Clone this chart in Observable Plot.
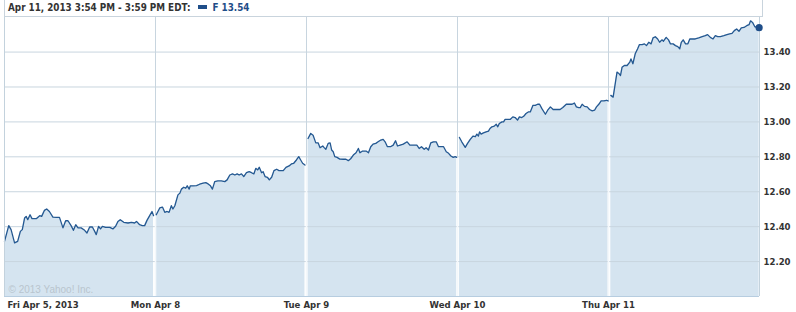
<!DOCTYPE html>
<html>
<head>
<meta charset="utf-8">
<script src="https://cdn.jsdelivr.net/npm/d3@7"></script>
<script src="https://cdn.jsdelivr.net/npm/@observablehq/plot@0.6"></script>
<style>
  html, body { margin: 0; padding: 0; background: #fff; }
  #wrap { width: 796px; }
  #hdr {
    margin-left: 4px; width: 754px; height: 16px;
    border-left: 1px solid #c9d4dd; border-right: 1px solid #c9d4dd; border-bottom: 1px solid #c9d4dd;
    font-family: "DejaVu Sans Condensed", "DejaVu Sans", sans-serif; font-weight: bold; font-size: 9.8px;
    color: #333; line-height: 16px; padding-left: 3px; box-sizing: content-box; white-space: nowrap;
  }
  #hdr .sw { display: inline-block; width: 9px; height: 4px; background: #1f4e89; margin: 0 5px 0 8px; vertical-align: 2px; }
  #hdr .tk { color: #1f4e89; }
</style>
</head>
<body>
<div id="wrap">
  <div id="hdr"><span id="range"></span><span class="sw"></span><span class="tk" id="tick"></span></div>
  <div id="chart"></div>
</div>
<script>
// Header texts
const rangeText = "Apr 11, 2013 3:54 PM - 3:59 PM EDT:";
const symbol = "F";
const lastPrice = 13.54;

// Session labels (one per trading day) and y ticks
const days = ["Fri Apr 5, 2013", "Mon Apr 8", "Tue Apr 9", "Wed Apr 10", "Thu Apr 11"];
const yTicks = [12.2, 12.4, 12.6, 12.8, 13.0, 13.2, 13.4];
const copyright = "\u00A9 2013 Yahoo! Inc.";

// [minutes after 9:30 open, price]
const fri = [[0,12.316],[11,12.406],[17,12.383],[26,12.307],[34,12.316],[41,12.373],[46,12.383],[52,12.450],[56,12.459],[60,12.440],
  [66,12.468],[71,12.446],[82,12.446],[91,12.463],[96,12.459],[103,12.493],[109,12.501],[116,12.487],[125,12.455],[134,12.453],
  [142,12.453],[151,12.393],[158,12.434],[164,12.434],[172,12.406],[178,12.379],[184,12.411],[190,12.393],[198,12.393],[207,12.379],
  [213,12.364],[220,12.398],[227,12.398],[233,12.373],[237,12.354],[243,12.402],[248,12.387],[253,12.402],[261,12.396],[272,12.396],
  [280,12.387],[287,12.402],[293,12.430],[299,12.440],[308,12.425],[319,12.421],[328,12.425],[336,12.421],[341,12.430],[349,12.411],
  [356,12.406],[362,12.406],[368,12.436],[375,12.463],[381,12.487],[385,12.463]];
const mon = [[2,12.468],[11,12.507],[18,12.512],[24,12.482],[30,12.487],[35,12.482],[41,12.520],[45,12.501],[50,12.520],[58,12.582],
  [63,12.592],[67,12.615],[73,12.626],[78,12.620],[82,12.634],[87,12.615],[90,12.634],[97,12.634],[106,12.635],[114,12.643],
  [123,12.649],[130,12.652],[136,12.645],[142,12.634],[147,12.615],[153,12.658],[161,12.662],[170,12.662],[179,12.658],[185,12.668],
  [192,12.696],[199,12.702],[205,12.696],[211,12.702],[216,12.696],[222,12.702],[228,12.687],[235,12.709],[242,12.715],[248,12.709],
  [254,12.702],[259,12.734],[264,12.725],[268,12.740],[274,12.709],[278,12.715],[283,12.687],[289,12.683],[294,12.668],[300,12.683],
  [306,12.721],[313,12.729],[319,12.721],[330,12.721],[337,12.740],[345,12.748],[351,12.759],[357,12.763],[364,12.782],[370,12.801],
  [375,12.782],[380,12.763],[386,12.753]];
const tue = [[4,12.905],[11,12.934],[17,12.924],[24,12.880],[30,12.880],[35,12.852],[42,12.862],[45,12.854],[50,12.843],[56,12.877],
  [61,12.880],[65,12.839],[69,12.829],[73,12.801],[79,12.797],[86,12.787],[95,12.786],[102,12.786],[108,12.778],[114,12.789],
  [121,12.810],[128,12.823],[134,12.848],[138,12.823],[145,12.833],[154,12.833],[160,12.823],[166,12.858],[172,12.873],[179,12.877],
  [185,12.886],[192,12.896],[198,12.900],[203,12.886],[209,12.858],[217,12.858],[224,12.867],[230,12.892],[235,12.862],[242,12.867],
  [250,12.873],[260,12.886],[267,12.867],[276,12.867],[285,12.867],[291,12.848],[297,12.858],[304,12.843],[309,12.852],[315,12.839],
  [321,12.880],[328,12.886],[335,12.886],[341,12.858],[347,12.858],[354,12.858],[361,12.829],[367,12.820],[373,12.805],[379,12.797],
  [384,12.801],[388,12.797]];
const wed = [[5,12.911],[11,12.886],[20,12.854],[26,12.877],[33,12.900],[40,12.919],[46,12.915],[50,12.930],[54,12.919],[57,12.943],
  [61,12.930],[67,12.937],[74,12.943],[80,12.947],[84,12.962],[89,12.972],[95,12.976],[100,12.987],[104,12.972],[108,12.991],
  [115,13.000],[119,13.000],[123,13.014],[129,13.014],[136,13.014],[143,13.029],[149,13.025],[155,13.010],[160,13.029],[166,13.025],
  [171,13.032],[177,13.048],[183,13.057],[188,13.057],[195,13.095],[201,13.095],[207,13.101],[212,13.101],[218,13.076],[227,13.044],
  [233,13.067],[240,13.086],[247,13.071],[255,13.071],[265,13.071],[272,13.082],[281,13.101],[290,13.101],[296,13.101],[302,13.108],
  [307,13.086],[313,13.082],[317,13.082],[322,13.101],[328,13.089],[335,13.086],[341,13.071],[348,13.063],[354,13.067],[359,13.086],
  [365,13.101],[371,13.120],[378,13.120],[385,13.124],[389,13.120]];
const thu = [[6,13.152],[12,13.142],[18,13.228],[22,13.285],[26,13.279],[31,13.266],[35,13.313],[41,13.323],[48,13.323],[55,13.342],
  [58,13.361],[63,13.333],[69,13.390],[75,13.418],[80,13.443],[87,13.443],[93,13.447],[98,13.437],[104,13.456],[110,13.447],
  [115,13.481],[121,13.488],[127,13.475],[132,13.456],[138,13.470],[142,13.462],[149,13.484],[155,13.470],[160,13.447],[167,13.447],
  [173,13.437],[179,13.431],[184,13.418],[188,13.456],[193,13.470],[199,13.447],[205,13.447],[210,13.475],[216,13.475],[224,13.475],
  [233,13.481],[242,13.488],[250,13.494],[256,13.500],[263,13.484],[270,13.475],[276,13.494],[282,13.488],[289,13.488],[298,13.494],
  [306,13.500],[313,13.504],[319,13.507],[325,13.523],[331,13.532],[337,13.519],[343,13.538],[350,13.541],[357,13.551],[363,13.557],
  [367,13.579],[372,13.570],[378,13.545],[385,13.541],[389,13.540]];

const sessionMinutes = 390;
const sessions = [fri, mon, tue, wed, thu];
const data = sessions.flatMap((s, d) => s.map(([m, p]) => ({day: d, x: d + m / sessionMinutes, price: p})));
const last = data[data.length - 1];
const bounds = d3.range(1, sessions.length).map(d => ({
  x: d,
  top: Math.min(sessions[d - 1][sessions[d - 1].length - 1][1], sessions[d][0][1])
}));
const yMin = 12.0, yMax = 13.598;

document.getElementById("range").textContent = rangeText;
document.getElementById("tick").textContent = `${symbol} ${lastPrice.toFixed(2)}`;

const font = '"DejaVu Sans Condensed", "DejaVu Sans", sans-serif';
const lineColor = "#245891";
const fillColor = "#d5e4f0";
const gridColor = "#c8d5df";

const chart = Plot.plot({
  width: 796,
  height: 295,
  marginLeft: 4,
  marginRight: 37,
  marginTop: 0,
  marginBottom: 16,
  style: {fontFamily: font, fontSize: "9.5px", fontWeight: "bold", color: "#333", background: "#fff"},
  x: {domain: [0, sessions.length], axis: null},
  y: {domain: [yMin, yMax], axis: "right", ticks: yTicks, tickSize: 0, tickPadding: 4, tickFormat: d3.format(".2f"), label: null},
  marks: [
    Plot.ruleX(bounds, {x: "x", stroke: gridColor}),
    Plot.areaY(data, {x: "x", y1: yMin, y2: "price", z: "day", fill: fillColor}),
    Plot.ruleY(yTicks, {stroke: gridColor}),
    Plot.ruleX(bounds, {x: "x", y1: yMin, y2: "top", stroke: "#f4f8fb", strokeWidth: 1.6}),
    Plot.line(data, {x: "x", y: "price", z: "day", stroke: lineColor, strokeWidth: 1.3}),
    Plot.ruleX([0, sessions.length], {stroke: "#c3d2dd"}),
    Plot.ruleY([yMin], {stroke: "#b7cde0"}),
    Plot.dot([last], {x: "x", y: "price", r: 3.6, fill: "#1f4e89", stroke: "none"}),
    Plot.text([copyright], {frameAnchor: "bottom-left", dx: 4, dy: -4, lineAnchor: "bottom", textAnchor: "start",
      fill: "#b9c5ce", fontWeight: "normal", fontSize: 10, fontFamily: '"Liberation Sans", Arial, sans-serif'}),
    Plot.text(days.slice(0, 1), {x: () => 0, y: () => yMin, dy: 8.5, dx: 3, textAnchor: "start", lineAnchor: "middle", fill: "#333"}),
    Plot.text(days.slice(1), {x: (d, i) => i + 1, y: () => yMin, dy: 8.5, textAnchor: "middle", lineAnchor: "middle", fill: "#333"})
  ]
});
document.getElementById("chart").appendChild(chart);
</script>
</body>
</html>
